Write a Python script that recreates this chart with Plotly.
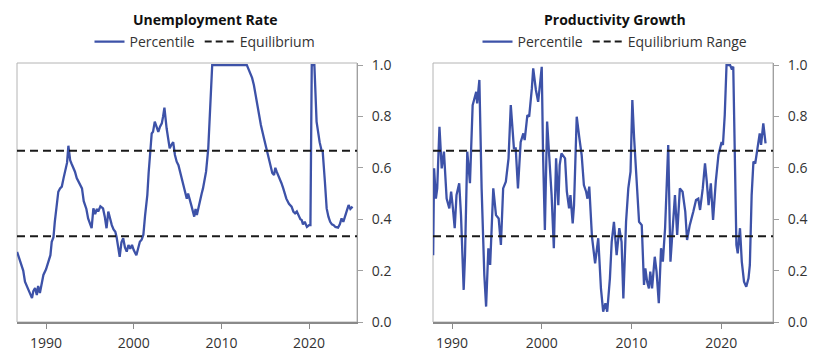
import plotly.graph_objects as go

# ---------------- data ----------------
U_YEARS = [1986.7, 1986.95, 1987.2, 1987.4, 1987.6, 1987.8, 1987.98, 1988.2, 1988.4, 1988.55,
           1988.75, 1988.95, 1989.1, 1989.3, 1989.5, 1989.7, 1990.0, 1990.3, 1990.5, 1990.65,
           1990.85, 1991.0, 1991.2, 1991.4, 1991.6, 1991.8, 1992.0, 1992.2, 1992.4, 1992.55,
           1992.75, 1992.9, 1993.1, 1993.3, 1993.5, 1993.7, 1993.9, 1994.1, 1994.3, 1994.45,
           1994.6, 1994.8, 1995.0, 1995.2, 1995.4, 1995.6, 1995.8, 1995.95, 1996.2, 1996.5,
           1996.7, 1996.9, 1997.1, 1997.3, 1997.5, 1997.7, 1997.9, 1998.05, 1998.2, 1998.4,
           1998.6, 1998.8, 1999.0, 1999.2, 1999.4, 1999.6, 1999.8, 2000.0, 2000.3, 2000.5,
           2000.7, 2000.9, 2001.1, 2001.3, 2001.55, 2001.7, 2001.85, 2002.05, 2002.2, 2002.4,
           2002.6, 2002.8, 2003.0, 2003.2, 2003.35, 2003.5, 2003.75, 2003.9, 2004.1, 2004.3,
           2004.5, 2004.7, 2004.9, 2005.1, 2005.3, 2005.5, 2005.65, 2005.85, 2006.05, 2006.2,
           2006.4, 2006.6, 2006.9, 2007.05, 2007.2, 2007.4, 2007.55, 2007.75, 2007.9, 2008.1,
           2008.25, 2008.5, 2008.7, 2008.95, 2012.9, 2013.25, 2013.5, 2013.7, 2014.1, 2014.3,
           2014.5, 2014.85, 2015.2, 2015.4, 2015.6, 2015.8, 2016.0, 2016.15, 2016.3, 2016.5,
           2016.65, 2016.85, 2017.05, 2017.2, 2017.4, 2017.7, 2018.0, 2018.2, 2018.4, 2018.6,
           2018.8, 2019.0, 2019.15, 2019.3, 2019.5, 2019.75, 2020.0, 2020.15, 2020.3, 2020.6,
           2020.85, 2021.0, 2021.2, 2021.4, 2021.55, 2021.8, 2022.0, 2022.2, 2022.4, 2022.6,
           2022.8, 2023.0, 2023.3, 2023.5, 2023.7, 2023.9, 2024.1, 2024.3, 2024.5, 2024.7,
           2024.95]
U_VALUES = [0.273, 0.245, 0.215, 0.2, 0.157, 0.14, 0.125, 0.11, 0.093, 0.12,
            0.132, 0.105, 0.14, 0.113, 0.15, 0.183, 0.205, 0.235, 0.26, 0.312,
            0.33, 0.39, 0.45, 0.507, 0.52, 0.527, 0.56, 0.598, 0.62, 0.686,
            0.63, 0.617, 0.6, 0.585, 0.56, 0.546, 0.53, 0.52, 0.47, 0.455,
            0.44, 0.403, 0.38, 0.365, 0.442, 0.42, 0.44, 0.43, 0.45, 0.442,
            0.41, 0.365, 0.43, 0.40, 0.377, 0.36, 0.351, 0.33, 0.30, 0.254,
            0.31, 0.326, 0.29, 0.274, 0.30, 0.285, 0.30, 0.28, 0.26, 0.29,
            0.312, 0.32, 0.34, 0.416, 0.494, 0.58, 0.65, 0.734, 0.74, 0.78,
            0.76, 0.74, 0.76, 0.773, 0.80, 0.834, 0.754, 0.72, 0.676, 0.69,
            0.70, 0.65, 0.624, 0.61, 0.585, 0.56, 0.533, 0.51, 0.48, 0.50,
            0.468, 0.45, 0.41, 0.44, 0.416, 0.45, 0.48, 0.50, 0.52, 0.56,
            0.585, 0.676, 0.844, 1.0, 1.0, 0.974, 0.95, 0.922, 0.844, 0.80,
            0.767, 0.715, 0.663, 0.63, 0.598, 0.58, 0.572, 0.60, 0.585, 0.57,
            0.559, 0.54, 0.52, 0.50, 0.48, 0.46, 0.449, 0.43, 0.423, 0.43,
            0.416, 0.40, 0.397, 0.38, 0.39, 0.37, 0.377, 0.377, 1.0, 1.0,
            0.78, 0.74, 0.70, 0.67, 0.663, 0.546, 0.442, 0.41, 0.39, 0.38,
            0.377, 0.37, 0.367, 0.38, 0.403, 0.39, 0.41, 0.43, 0.455, 0.44,
            0.449]

P_YEARS = [1987.9, 1988.0, 1988.2, 1988.35, 1988.6, 1988.85, 1989.1, 1989.4, 1989.7, 1989.9,
           1990.1, 1990.3, 1990.5, 1990.8, 1991.0, 1991.2, 1991.3, 1991.45, 1991.7, 1992.0,
           1992.3, 1992.7, 1992.8, 1993.05, 1993.3, 1993.6, 1993.8, 1994.05, 1994.25, 1994.6,
           1994.9, 1995.2, 1995.45, 1995.7, 1996.0, 1996.3, 1996.55, 1996.9, 1997.1, 1997.35,
           1997.65, 1997.95, 1998.1, 1998.4, 1998.6, 1998.9, 1999.05, 1999.35, 1999.6, 1999.8,
           2000.0, 2000.15, 2000.35, 2000.6, 2000.9, 2001.1, 2001.35, 2001.6, 2001.85, 2002.0,
           2002.2, 2002.6, 2002.8, 2003.05, 2003.2, 2003.45, 2003.6, 2003.9, 2004.2, 2004.45,
           2004.7, 2004.95, 2005.1, 2005.3, 2005.6, 2005.95, 2006.3, 2006.6, 2006.85, 2007.1,
           2007.3, 2007.6, 2007.8, 2008.05, 2008.35, 2008.65, 2008.9, 2009.1, 2009.4, 2009.65,
           2009.9, 2010.1, 2010.3, 2010.6, 2010.85, 2011.15, 2011.4, 2011.55, 2011.75, 2011.95,
           2012.1, 2012.3, 2012.6, 2012.8, 2013.05, 2013.3, 2013.5, 2013.75, 2013.95, 2014.1,
           2014.35, 2014.6, 2014.85, 2015.1, 2015.4, 2015.7, 2016.0, 2016.2, 2016.5, 2016.9,
           2017.2, 2017.45, 2017.65, 2017.95, 2018.2, 2018.4, 2018.6, 2018.85, 2019.1, 2019.4,
           2019.7, 2020.05, 2020.2, 2020.4, 2020.6, 2021.0, 2021.15, 2021.35, 2021.55, 2021.7,
           2021.85, 2022.1, 2022.3, 2022.55, 2022.8, 2023.05, 2023.2, 2023.4, 2023.6, 2023.8,
           2024.05, 2024.3, 2024.45, 2024.7, 2024.95]
P_VALUES = [0.26, 0.598, 0.48, 0.52, 0.76, 0.598, 0.663, 0.48, 0.442, 0.507,
            0.442, 0.365, 0.494, 0.54, 0.416, 0.157, 0.125, 0.26, 0.663, 0.54,
            0.844, 0.896, 0.851, 0.942, 0.52, 0.183, 0.06, 0.287, 0.222, 0.52,
            0.416, 0.403, 0.30, 0.52, 0.546, 0.637, 0.844, 0.676, 0.676, 0.52,
            0.70, 0.734, 0.708, 0.805, 0.799, 0.909, 0.987, 0.903, 0.857, 0.922,
            0.993, 0.65, 0.358, 0.78, 0.598, 0.494, 0.287, 0.637, 0.455, 0.611,
            0.656, 0.637, 0.507, 0.442, 0.494, 0.384, 0.455, 0.799, 0.715, 0.65,
            0.533, 0.507, 0.48, 0.527, 0.332, 0.228, 0.326, 0.131, 0.04, 0.073,
            0.04, 0.17, 0.312, 0.39, 0.26, 0.365, 0.312, 0.092, 0.39, 0.52,
            0.585, 0.864, 0.715, 0.52, 0.39, 0.377, 0.144, 0.209, 0.157, 0.131,
            0.196, 0.131, 0.254, 0.196, 0.073, 0.287, 0.235, 0.365, 0.52, 0.689,
            0.235, 0.365, 0.494, 0.339, 0.52, 0.507, 0.43, 0.319, 0.377, 0.43,
            0.475, 0.48, 0.436, 0.52, 0.617, 0.546, 0.455, 0.54, 0.397, 0.546,
            0.65, 0.70, 0.689, 0.805, 1.0, 1.0, 0.987, 0.993, 0.65, 0.30,
            0.267, 0.365, 0.235, 0.157, 0.137, 0.17, 0.222, 0.494, 0.624, 0.617,
            0.676, 0.734, 0.689, 0.773, 0.695]

EQUILIBRIUM = [1 / 3, 2 / 3]
TITLES = ["Unemployment Rate", "Productivity Growth"]
LINE_NAMES = ["Percentile", "Percentile"]
EQ_NAMES = ["Equilibrium", "Equilibrium Range"]
X_TICKS = [1990, 2000, 2010, 2020]
Y_TICKS = [0.0, 0.2, 0.4, 0.6, 0.8, 1.0]

# ---------------- style ----------------
OFF = 8  # page body margin in the browser
W, H = 840 - 2 * OFF, 362 - 2 * OFF
FONT = "Open Sans"
BLUE = "#3d52a8"
TXT = "#333333"


def px(sx):
    return (sx - OFF) / W


def py(sy):
    return (H - (sy - OFF)) / H


X_RANGES = [[1986.69, 2025.46], [1987.88, 2025.78]]
X_DOMAINS = [[px(17), px(357)], [px(433), px(773)]]
Y_DOMAIN = [py(322), py(63)]
Y_RANGE = [0, 1.008]

fig = go.Figure()
series = [(U_YEARS, U_VALUES), (P_YEARS, P_VALUES)]
for i, (xs, ys) in enumerate(series):
    n = "" if i == 0 else "2"
    leg = "legend" if i == 0 else "legend2"
    fig.add_trace(go.Scatter(
        x=xs, y=ys, mode="lines", name=LINE_NAMES[i],
        line=dict(color=BLUE, width=2.3), xaxis="x" + n, yaxis="y" + n,
        legend=leg, showlegend=True, hoverinfo="skip"))
    # legend entry for equilibrium
    fig.add_trace(go.Scatter(
        x=[None], y=[None], mode="lines", name=EQ_NAMES[i],
        line=dict(color="#1a1a1a", width=2, dash="7px,4px"), xaxis="x" + n, yaxis="y" + n,
        legend=leg, showlegend=True))
    for v in EQUILIBRIUM:
        fig.add_shape(type="line", xref=f"x{n} domain", yref="y" + n,
                      x0=0, x1=1, y0=v, y1=v,
                      line=dict(color="#1a1a1a", width=2, dash="8px,5px"), layer="above")
    # box
    fig.add_shape(type="rect", xref=f"x{n} domain", yref=f"y{n} domain",
                  x0=0, x1=1, y0=0, y1=1, line=dict(color="#b4b4b4", width=1), layer="below")

axis_font = dict(family=FONT, size=14, color=TXT)
for i in range(2):
    n = "" if i == 0 else "2"
    fig.layout["xaxis" + n] = dict(
        domain=X_DOMAINS[i], range=X_RANGES[i], anchor="y" + n,
        tickvals=X_TICKS, ticktext=[str(t) for t in X_TICKS],
        ticks="outside", ticklen=5, tickcolor="#8a8a8a", tickwidth=1,
        ticklabelstandoff=2,
        showline=True, linecolor="#8a8a8a", linewidth=1.5,
        showgrid=False, zeroline=False, tickfont=axis_font, fixedrange=True)
    fig.layout["yaxis" + n] = dict(
        domain=Y_DOMAIN, range=Y_RANGE, anchor="x" + n, side="right",
        tickvals=Y_TICKS, tickformat=".1f",
        ticks="outside", ticklen=5, tickcolor="#a0a0a0", tickwidth=1,
        ticklabelstandoff=6,
        showline=True, linecolor="#a0a0a0", linewidth=1,
        showgrid=False, zeroline=False, tickfont=axis_font, fixedrange=True)

title_x = [px(205), px(615)]
for i in range(2):
    fig.add_annotation(text=f"<b>{TITLES[i]}</b>", xref="paper", yref="paper",
                       x=title_x[i], y=py(20), xanchor="center", yanchor="middle",
                       showarrow=False, font=dict(family=FONT, size=14, color="#111111"))

leg_common = dict(orientation="h", xanchor="center", yanchor="middle",
                  font=dict(family=FONT, size=14, color=TXT),
                  bgcolor="rgba(0,0,0,0)", itemclick=False, itemdoubleclick=False,
                  tracegroupgap=0)
fig.update_layout(
    width=W, height=H,
    margin=dict(l=0, r=0, t=0, b=0, autoexpand=False),
    paper_bgcolor="white", plot_bgcolor="white",
    font=dict(family=FONT, size=14, color=TXT),
    legend=dict(x=px(205), y=py(42), **leg_common),
    legend2=dict(x=px(615), y=py(42), **leg_common),
)

fig.write_html("out.html")
